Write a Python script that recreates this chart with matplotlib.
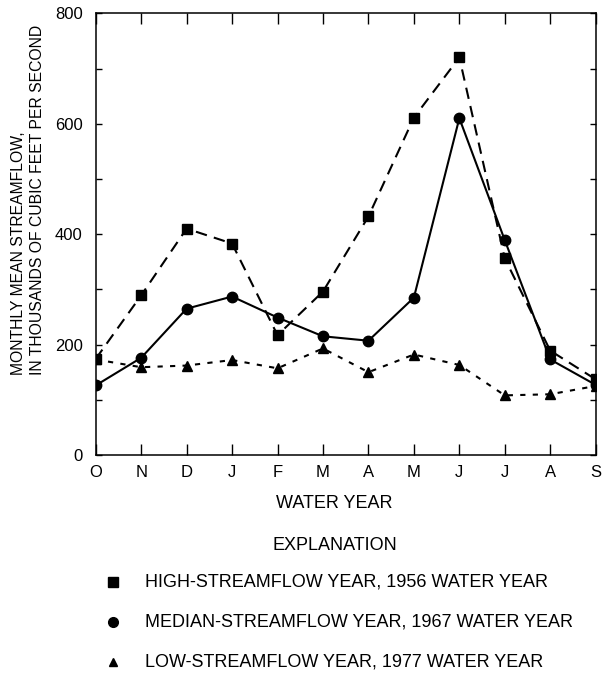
import matplotlib
matplotlib.use("Agg")
import matplotlib.pyplot as plt
from matplotlib.lines import Line2D

plt.rcParams['font.family'] = ['Liberation Sans', 'DejaVu Sans']
plt.rcParams['font.size'] = 12

months = ['O', 'N', 'D', 'J', 'F', 'M', 'A', 'M', 'J', 'J', 'A', 'S']
high_1956 = [174, 289, 410, 383, 217, 296, 432, 611, 720, 356, 189, 137]
median_1967 = [126, 176, 265, 287, 249, 215, 207, 285, 610, 389, 173, 127]
low_1977 = [173, 159, 162, 172, 157, 193, 150, 182, 163, 108, 110, 125]
y_ticks = [0, 200, 400, 600, 800]

W, H = 605, 675
fig = plt.figure(figsize=(W / 100, H / 100), dpi=100)
ax = fig.add_axes([95.7 / W, 1 - 455 / H, 500 / W, 441.7 / H])

x = list(range(len(months)))
ax.plot(x, high_1956, color='black', lw=1.5, ls=(0, (5.5, 3.5)),
        marker='s', ms=7, zorder=3)
ax.plot(x, median_1967, color='black', lw=1.5, ls='-',
        marker='o', ms=7.5, zorder=4)
ax.plot(x, low_1977, color='black', lw=1.5, ls=(0, (2.5, 3.5)),
        marker='^', ms=6.5, zorder=2)

ax.set_xlim(0, len(months) - 1)
ax.set_ylim(0, 800)
ax.set_xticks(x)
ax.set_xticklabels(months)
ax.set_yticks(y_ticks)
ax.set_yticks([100, 300, 500, 700], minor=True)
ax.tick_params(axis='x', direction='in', length=8, width=1, top=True,
               pad=7.5, labelsize=12)
ax.tick_params(axis='y', which='both', direction='in', length=4.5, width=1,
               right=True, pad=9.5, labelsize=12)
for s in ax.spines.values():
    s.set_linewidth(1.1)

fig.text(334 / W, 1 - 503.3 / H, 'WATER YEAR', ha='center', va='center',
         fontsize=13)

# y-axis title as two left-aligned rotated lines
fig.text(18.8 / W, 1 - 375 / H, 'MONTHLY MEAN STREAMFLOW,', rotation=90,
         ha='center', va='bottom', fontsize=11.3)
fig.text(37.5 / W, 1 - 375 / H, 'IN THOUSANDS OF CUBIC FEET PER SECOND',
         rotation=90, ha='center', va='bottom', fontsize=11.3)

# explanation block
fig.text(335 / W, 1 - 545 / H, 'EXPLANATION', ha='center', va='center',
         fontsize=13)
entries = [('s', 6.5, 'HIGH-STREAMFLOW YEAR, 1956 WATER YEAR', 581.7),
           ('o', 7, 'MEDIAN-STREAMFLOW YEAR, 1967 WATER YEAR', 621.7),
           ('^', 5.5, 'LOW-STREAMFLOW YEAR, 1977 WATER YEAR', 661.7)]
for mk, size, label, ypx in entries:
    fig.add_artist(Line2D([112.7 / W], [1 - ypx / H], marker=mk, ms=size,
                          color='black', ls='none', transform=fig.transFigure))
    fig.text(145 / W, 1 - ypx / H, label, ha='left', va='center', fontsize=13)

fig.savefig('out.png', dpi=100)
